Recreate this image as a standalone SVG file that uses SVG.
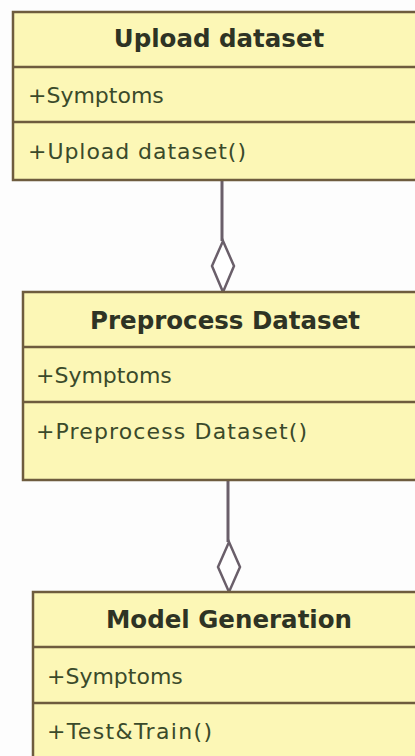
<svg xmlns="http://www.w3.org/2000/svg" width="415" height="756" viewBox="0 0 415 756">
<style>
.box{fill:#fcf7b6;stroke:#6e5c3e;stroke-width:2.5}
.div{stroke:#6e5c3e;stroke-width:2.5}
.title{font-family:"DejaVu Sans",sans-serif;font-weight:bold;font-size:24.5px;fill:#2e3324;text-anchor:middle}
.item{font-family:"DejaVu Sans",sans-serif;font-size:22px;fill:#3a4a2a}
.conn{stroke:#6a5f6a;stroke-width:3;fill:none}
.dia{stroke:#6a5f6a;stroke-width:2.5;fill:#ffffff}
</style>
<rect width="415" height="756" fill="#fdfdfd"/>
<g id="connectors">
<line class="conn" x1="222" y1="180" x2="222" y2="241"/>
<polygon class="dia" points="223,241 234,266 223,292 212,266"/>
<line class="conn" x1="228" y1="480" x2="228" y2="542"/>
<polygon class="dia" points="229,542 240,567 229,592 218,567"/>
</g>
<g id="upload-dataset">
<rect class="box" x="13" y="12" width="420" height="168"/>
<line class="div" x1="13" y1="67" x2="415" y2="67"/>
<line class="div" x1="13" y1="122" x2="415" y2="122"/>
<text class="title" x="219" y="47">Upload dataset</text>
<text class="item" x="28" y="103">+Symptoms</text>
<text class="item" x="28" y="159" textLength="218" lengthAdjust="spacing">+Upload dataset()</text>
</g>
<g id="preprocess-dataset">
<rect class="box" x="23" y="292" width="420" height="188"/>
<line class="div" x1="23" y1="347" x2="415" y2="347"/>
<line class="div" x1="23" y1="402" x2="415" y2="402"/>
<text class="title" x="225" y="329">Preprocess Dataset</text>
<text class="item" x="36" y="383">+Symptoms</text>
<text class="item" x="36" y="439" textLength="271" lengthAdjust="spacing">+Preprocess Dataset()</text>
</g>
<g id="model-generation">
<rect class="box" x="33" y="592" width="420" height="200"/>
<line class="div" x1="33" y1="647" x2="415" y2="647"/>
<line class="div" x1="33" y1="703" x2="415" y2="703"/>
<text class="title" x="229" y="628">Model Generation</text>
<text class="item" x="47" y="684">+Symptoms</text>
<text class="item" x="47" y="739" textLength="165" lengthAdjust="spacing">+Test&amp;Train()</text>
</g>
</svg>
